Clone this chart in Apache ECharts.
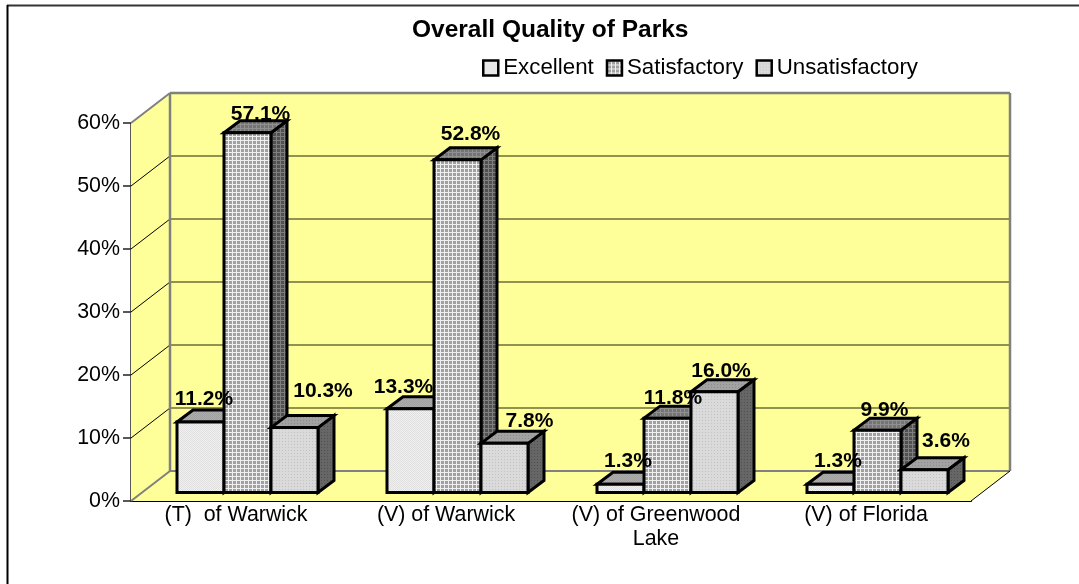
<!DOCTYPE html>
<html>
<head>
<meta charset="utf-8">
<title>Overall Quality of Parks</title>
<script src="https://cdn.jsdelivr.net/npm/echarts@6/dist/echarts.min.js"></script>
<style>
  html, body { margin: 0; padding: 0; background: #fff; }
  #chart { width: 1079px; height: 584px; }
</style>
</head>
<body>
<div id="chart"></div>
<script>
const categories = ['(T)  of Warwick', '(V) of Warwick', '(V) of Greenwood\nLake', '(V) of Florida']
const seriesNames = ['Excellent', 'Satisfactory', 'Unsatisfactory']
const excellent = [11.2, 13.3, 1.3, 1.3]
const satisfactory = [57.1, 52.8, 11.8, 9.9]
const unsatisfactory = [10.3, 7.8, 16.0, 3.6]
const yTicks = [0, 10, 20, 30, 40, 50, 60]

// hand placed data labels in the original, relative to each bar
const labelDx = [[3.5, -7, 7.5, 7.5], [13, 13, 5.5, 7], [28.5, 25, 6.5, 21.5]]
const labelDy = [[-4, -3, -5, -5], [0, -7, -1, -1], [-18, -4, -2, -10]]

const FONT = '"Liberation Sans", Arial, sans-serif'
const WALL = [39, -30] // depth of the room
const SHIFT = [11.5, -8.5] // bars stand a bit behind the front plane
const DEPTH = [16, -12] // depth of a bar
const BAR_RATIO = 47 / 210

function texture(size, base, ink, cells) {
  const c = document.createElement('canvas')
  c.width = c.height = size
  const g = c.getContext('2d')
  g.fillStyle = base
  g.fillRect(0, 0, size, size)
  g.fillStyle = ink
  cells.forEach(([x, y]) => g.fillRect(x, y, 1, 1))
  return { image: c, repeat: 'repeat' }
}

const CHECK = [[0, 0], [1, 1]]
const GRID = [[0, 0], [1, 0], [2, 0], [3, 0], [0, 1], [0, 2], [0, 3]]
const DOT = [[0, 0]]

const faces = [
  {
    front: texture(2, '#f0f0f0', '#e0e0e0', CHECK),
    side: texture(2, '#6a6a6a', '#5a5a5a', CHECK),
    top: texture(2, '#adadad', '#a0a0a0', CHECK),
  },
  {
    front: texture(4, '#a0a0a0', '#f0f0f0', GRID),
    side: texture(4, '#505050', '#808080', GRID),
    top: texture(4, '#747474', '#909090', GRID),
  },
  {
    front: texture(3, '#dadada', '#c2c2c2', DOT),
    side: texture(3, '#666666', '#505050', DOT),
    top: texture(3, '#a2a2a2', '#8c8c8c', DOT),
  },
]

function shifted(p, d) {
  return [p[0] + d[0], p[1] + d[1]]
}

function renderWalls(params, api) {
  const xMin = api.coord([0, 0])[0] - api.size([1, 0])[0] / 2
  const xMax = xMin + api.size([1, 0])[0] * categories.length
  const yLow = api.coord([0, yTicks[0]])[1]
  const yHigh = api.coord([0, yTicks[yTicks.length - 1]])[1]
  const fl = [xMin, yLow], tl = [xMin, yHigh], fr = [xMax, yLow]
  const bfl = shifted(fl, WALL), btl = shifted(tl, WALL)
  const bfr = shifted(fr, WALL), btr = [bfr[0], btl[1]]
  const poly = (points) => ({
    type: 'polygon',
    shape: { points },
    style: { fill: '#ffff99' },
  })
  const line = (a, b, stroke, lineWidth) => ({
    type: 'line',
    shape: { x1: a[0], y1: a[1], x2: b[0], y2: b[1] },
    style: { stroke, lineWidth, fill: null },
  })
  const children = [
    poly([bfl, btl, btr, bfr]),
    poly([fl, tl, btl, bfl]),
    poly([fl, bfl, bfr, fr]),
  ]
  yTicks.slice(1, -1).forEach((t) => {
    const y = api.coord([0, t])[1]
    children.push(line([xMin, y], [bfl[0], y + WALL[1]], '#000', 1))
    children.push(line([bfl[0], y + WALL[1]], [bfr[0], y + WALL[1]], '#6e6e38', 1.5))
  })
  children.push(
    line(btl, btr, '#808080', 2.5),
    line(btl, bfl, '#808080', 2.5),
    line(btr, bfr, '#808080', 2.5),
    line(bfl, bfr, '#808080', 2),
    line(fl, bfl, '#808080', 2),
    line(tl, btl, '#808080', 2),
    line(fr, bfr, '#000', 1),
  )
  return { type: 'group', children }
}

function barRenderer(s) {
  return function (params, api) {
    const band = api.size([1, 0])[0]
    const w = band * BAR_RATIO
    const top = api.coord([api.value(0), api.value(1)])
    const base = api.coord([api.value(0), 0])
    const x0 = top[0] + SHIFT[0] + (s - 1.5) * w
    const x1 = x0 + w
    const y0 = top[1] + SHIFT[1]
    const y1 = base[1] + SHIFT[1]
    const border = { stroke: '#000', lineWidth: 3, lineJoin: 'miter' }
    const d = DEPTH
    return {
      type: 'group',
      children: [
        {
          type: 'polygon',
          shape: { points: [[x1, y1], [x1 + d[0], y1 + d[1]], [x1 + d[0], y0 + d[1]], [x1, y0]] },
          style: { fill: faces[s].side, ...border },
        },
        {
          type: 'polygon',
          shape: { points: [[x0, y0], [x0 + d[0], y0 + d[1]], [x1 + d[0], y0 + d[1]], [x1, y0]] },
          style: { fill: faces[s].top, ...border },
        },
        {
          type: 'rect',
          shape: { x: x0, y: y0, width: w, height: y1 - y0 },
          style: { fill: faces[s].front, ...border },
        },
      ],
    }
  }
}

function labelRenderer(s) {
  return function (params, api) {
    const i = api.value(0)
    const w = api.size([1, 0])[0] * BAR_RATIO
    const top = api.coord([i, api.value(1)])
    const cx = top[0] + SHIFT[0] + (s - 1) * w + labelDx[s][i]
    const baseline = top[1] + SHIFT[1] + DEPTH[1] + labelDy[s][i]
    return {
      type: 'text',
      style: {
        text: api.value(1).toFixed(1) + '%',
        x: cx,
        y: baseline - 6.5,
        align: 'center',
        verticalAlign: 'middle',
        fill: '#000',
        font: `bold 21px ${FONT}`,
      },
    }
  }
}

const seriesValues = [excellent, satisfactory, unsatisfactory]
const toPoints = (values) => values.map((v, i) => [i, v])

const chart = echarts.init(document.getElementById('chart'), null, { renderer: 'canvas' })

chart.setOption({
  animation: false,
  backgroundColor: '#fff',
  title: {
    text: 'Overall Quality of Parks',
    left: 412,
    top: 18,
    padding: 0,
    textStyle: { fontFamily: FONT, fontSize: 24.5, fontWeight: 'bold', color: '#000' },
  },
  legend: {
    data: seriesNames,
    left: 482,
    top: 57,
    padding: 0,
    icon: 'rect',
    itemWidth: 15,
    itemHeight: 15,
    itemGap: 12,
    itemStyle: { borderColor: '#000', borderWidth: 2.5 },
    textStyle: { fontFamily: FONT, fontSize: 22.3, color: '#000' },
  },
  grid: { left: 131, top: 123, width: 840, height: 378 },
  xAxis: {
    type: 'category',
    data: categories,
    axisLine: { lineStyle: { color: '#000', width: 2 } },
    axisTick: { show: false },
    axisLabel: {
      fontFamily: FONT,
      fontSize: 21.4,
      color: '#000',
      lineHeight: 24,
      margin: 2,
      interval: 0,
    },
  },
  yAxis: {
    type: 'value',
    min: 0,
    max: 60,
    interval: 10,
    axisLine: { show: true, lineStyle: { color: '#222', width: 1.5 } },
    axisTick: { show: true, length: 8, lineStyle: { color: '#222', width: 1.5 } },
    splitLine: { show: false },
    axisLabel: {
      fontFamily: FONT,
      fontSize: 21.4,
      color: '#000',
      margin: 11,
      formatter: '{value}%',
    },
  },
  graphic: [
    { type: 'line', z: 0, shape: { x1: 7, y1: 5.5, x2: 1079, y2: 5.5 }, style: { stroke: '#333', lineWidth: 2 } },
    { type: 'line', z: 0, shape: { x1: 7.5, y1: 5, x2: 7.5, y2: 584 }, style: { stroke: '#000', lineWidth: 2 } },
  ],
  series: [
    {
      name: 'walls',
      type: 'custom',
      z: 1,
      silent: true,
      renderItem: renderWalls,
      data: [[0, 0]],
      encode: { x: 0, y: 1 },
    },
    ...seriesNames.map((name, s) => ({
      name,
      type: 'custom',
      z: 2 + s,
      itemStyle: { color: faces[s].front },
      renderItem: barRenderer(s),
      data: toPoints(seriesValues[s]),
      encode: { x: 0, y: 1 },
    })),
    ...seriesNames.map((name, s) => ({
      name: name + ' labels',
      type: 'custom',
      z: 10,
      silent: true,
      renderItem: labelRenderer(s),
      data: toPoints(seriesValues[s]),
      encode: { x: 0, y: 1 },
    })),
  ],
})

window.addEventListener('resize', () => chart.resize())
</script>
</body>
</html>
